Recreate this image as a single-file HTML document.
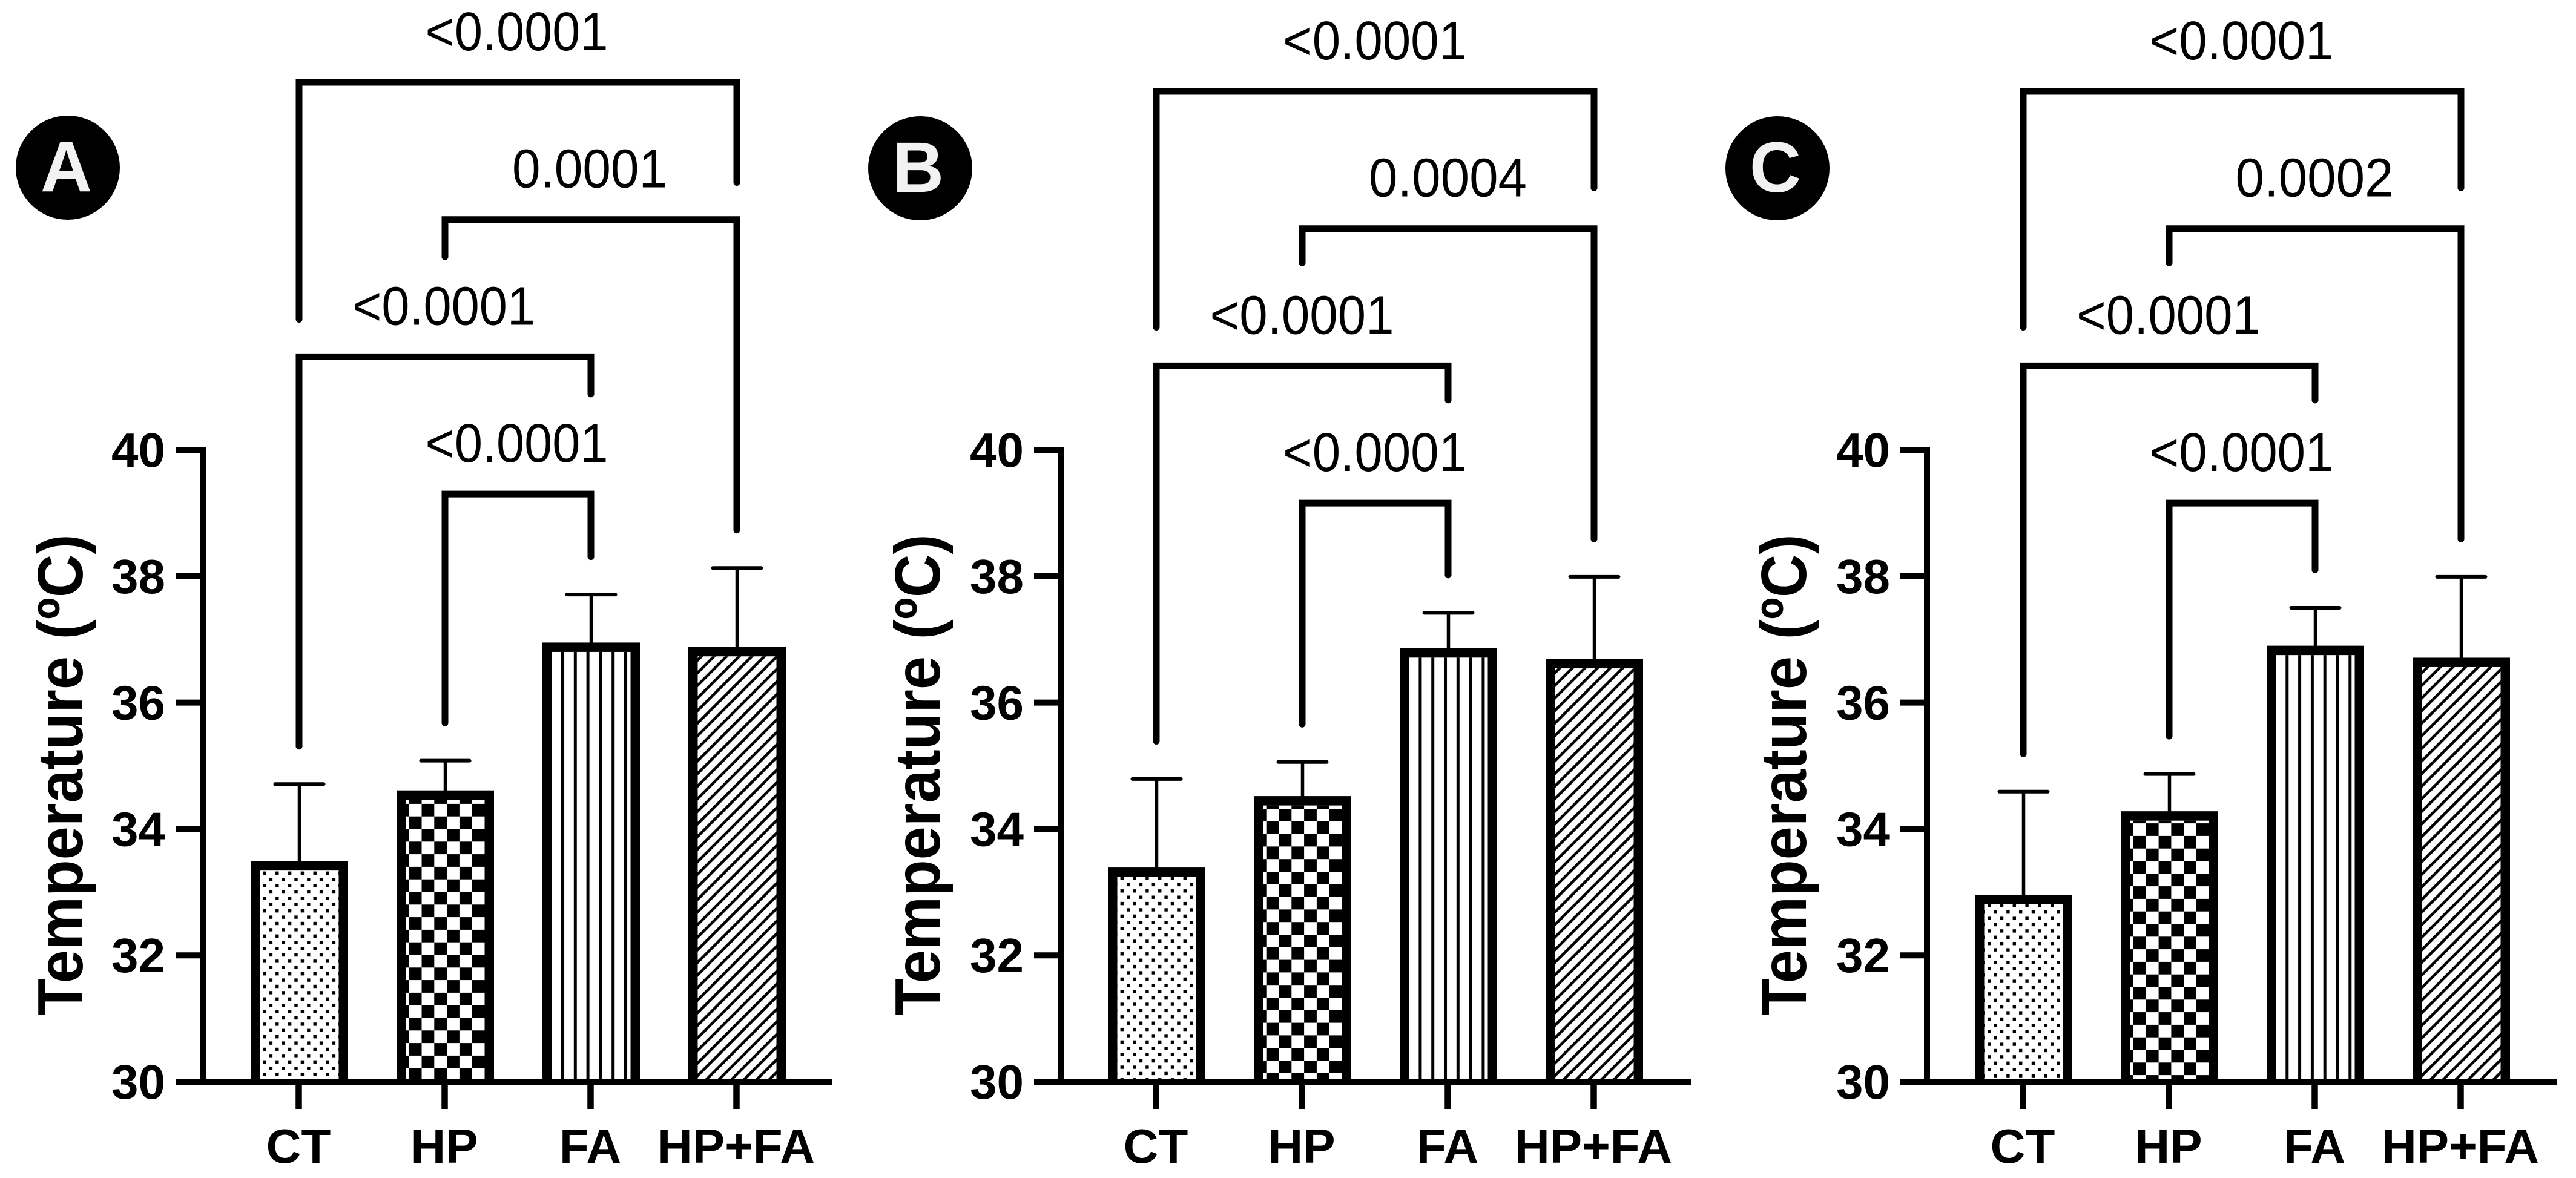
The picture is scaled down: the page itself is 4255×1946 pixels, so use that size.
<!DOCTYPE html>
<html lang="en">
<head>
<meta charset="utf-8">
<title>Temperature bar charts</title>
<style>
html,body{margin:0;padding:0;background:#fff;}
svg{display:block;}
text{font-family:"Liberation Sans",Arial,sans-serif;fill:#000;}
.b{font-weight:bold;}
</style>
</head>
<body>
<svg id="figure" xmlns="http://www.w3.org/2000/svg" width="4255" height="1946" viewBox="0 0 4255 1946">
<rect x="0" y="0" width="4255" height="1946" fill="#fff"/>
<defs id="defs"></defs>
</svg>
<script>
// ---- chart data ----
const categories = ['CT', 'HP', 'FA', 'HP+FA'];
const panelLetters = ['A', 'B', 'C'];
const tickValues = [30, 32, 34, 36, 38, 40];
const yAxisTitle = 'Temperature (ºC)';

const meansA = [33.49, 34.61, 36.95, 36.88];
const errorsA = [1.22, 0.47, 0.76, 1.25];
const pValuesA = ['<0.0001', '0.0001', '<0.0001', '<0.0001'];

const meansB = [33.39, 34.52, 36.86, 36.69];
const errorsB = [1.40, 0.54, 0.56, 1.30];
const pValuesB = ['<0.0001', '0.0004', '<0.0001', '<0.0001'];

const meansC = [32.96, 34.28, 36.90, 36.71];
const errorsC = [1.63, 0.59, 0.60, 1.28];
const pValuesC = ['<0.0001', '0.0002', '<0.0001', '<0.0001'];

// which two groups each significance bracket joins (indexes into categories)
const bracketPairs = [[0, 3], [1, 3], [0, 2], [1, 2]];

// ---- layout (not data) ----
const NS = 'http://www.w3.org/2000/svg';
const svg = document.getElementById('figure');
const AXIS_BOTTOM = 1787, PX_PER_UNIT = 104.4, AXIS_MIN = 30;
const TILE = 20.8, BAR_W = 161, BORDER = 15.5, TICK_STEP = 241;

const layouts = [
  { key: 'a', firstTick: 493.5, axisX: 335, axisEnd: 1375, tickLeft: 290, titleX: 136,
    badgeX: 112, badgeY: 277, bracketTop: 136, longDrop: 397, topShort: 171, midShort: 67,
    labelShift: -2, longW: 302, shortW: 256,
    checker: [675.7, 1764.7], dots: [437, 1442.3], stripes: 927, hatch: [1152, 1111.7] },
  { key: 'b', firstTick: 1909.5, axisX: 1752, axisEnd: 2793, tickLeft: 1708, titleX: 1552,
    badgeX: 1520, badgeY: 278, bracketTop: 151, longDrop: 395, topShort: 165, midShort: 62,
    labelShift: -0.5, longW: 304, shortW: 261,
    checker: [2091.7, 1440], dots: [1853.3, 1451], stripes: 2385, hatch: [2569, 1131.7] },
  { key: 'c', firstTick: 3341.5, axisX: 3183, axisEnd: 4224, tickLeft: 3139, titleX: 2983,
    badgeX: 2936, badgeY: 278, bracketTop: 151, longDrop: 395, topShort: 165, midShort: 62,
    labelShift: -1, longW: 304, shortW: 261,
    checker: [3524, 1505.7], dots: [3285.7, 1496.3], stripes: 3775.3, hatch: [4001, 1131.7] }
];
const panelMeans = [meansA, meansB, meansC];
const panelErrors = [errorsA, errorsB, errorsC];
const panelPValues = [pValuesA, pValuesB, pValuesC];

// ---- axis functions ----
function yScale(v) { return AXIS_BOTTOM - (v - AXIS_MIN) * PX_PER_UNIT; }
function xScale(layout, i) { return layout.firstTick + i * TICK_STEP; }

function add(parent, tag, attrs, text) {
  const el = document.createElementNS(NS, tag);
  for (const k in attrs) el.setAttribute(k, attrs[k]);
  if (text !== undefined) el.textContent = text;
  parent.appendChild(el);
  return el;
}

// ---- fill patterns ----
function buildPatterns(l) {
  const defs = document.getElementById('defs');
  const c = TILE;
  let m = '';
  m += '<pattern id="dots-' + l.key + '" patternUnits="userSpaceOnUse" width="' + c + '" height="' + c + '" x="' + (l.dots[0] - c / 4) + '" y="' + (l.dots[1] - c / 4) + '">' +
       '<rect x="' + (c / 4 - 2.7) + '" y="' + (c / 4 - 2.7) + '" width="5.4" height="5.4" fill="#000"/>' +
       '<rect x="' + (3 * c / 4 - 2.7) + '" y="' + (3 * c / 4 - 2.7) + '" width="5.4" height="5.4" fill="#000"/></pattern>';
  m += '<pattern id="checker-' + l.key + '" patternUnits="userSpaceOnUse" width="' + (2 * c) + '" height="' + (2 * c) + '" x="' + l.checker[0] + '" y="' + l.checker[1] + '">' +
       '<rect x="0" y="0" width="' + c + '" height="' + c + '" fill="#000"/>' +
       '<rect x="' + c + '" y="' + c + '" width="' + c + '" height="' + c + '" fill="#000"/></pattern>';
  m += '<pattern id="stripes-' + l.key + '" patternUnits="userSpaceOnUse" width="' + c + '" height="' + c + '" x="' + l.stripes + '" y="0">' +
       '<rect x="0" y="0" width="5" height="' + c + '" fill="#000"/></pattern>';
  m += '<pattern id="hatch-' + l.key + '" patternUnits="userSpaceOnUse" width="' + c + '" height="' + c + '" x="' + l.hatch[0] + '" y="' + (l.hatch[1] - c) + '">' +
       '<path d="M-2,2 L2,-2 M-2,' + (c + 2) + ' L' + (c + 2) + ',-2 M' + (c - 2) + ',' + (c + 2) + ' L' + (c + 2) + ',' + (c - 2) + '" stroke="#000" stroke-width="4.6" fill="none"/></pattern>';
  defs.insertAdjacentHTML('beforeend', m);
}

const fillNames = ['dots', 'checker', 'stripes', 'hatch'];

// ---- draw each panel ----
layouts.forEach(function (l, p) {
  const means = panelMeans[p], errors = panelErrors[p], pVals = panelPValues[p];
  const letter = panelLetters[p].toLowerCase();
  buildPatterns(l);

  const g = add(svg, 'g', {});
  
  

  // panel badge
  const badge = add(g, 'circle', { cx: l.badgeX, cy: l.badgeY, r: 86, fill: '#000' });
  
  
  const badgeText = add(g, 'text', { x: l.badgeX - (p === 0 ? 2.5 : 3.5), y: l.badgeY + 39, 'text-anchor': 'middle', 'font-size': 118, 'font-weight': 'bold', style: 'fill:#f2f2f2' }, panelLetters[p]);
  
  

  // y axis title
  const title = add(g, 'text', { transform: 'translate(' + l.titleX + ',1280) rotate(-90)', 'text-anchor': 'middle', 'font-size': 106, 'font-weight': 'bold', textLength: 795, lengthAdjust: 'spacingAndGlyphs' }, yAxisTitle);
  
  

  // bars, with error bars behind the bar border
  categories.forEach(function (cat, i) {
    const cx = xScale(l, i) + 1;
    const top = yScale(means[i]);
    const capY = yScale(means[i] + errors[i]);

    const stem = add(g, 'line', { x1: cx, x2: cx, y1: capY, y2: top + 2, stroke: '#000', 'stroke-width': 5.5 });
    
    
    const cap = add(g, 'line', { x1: cx - 40, x2: cx + 40, y1: capY, y2: capY, stroke: '#000', 'stroke-width': 6, 'stroke-linecap': 'round' });
    
    

    const outer = add(g, 'rect', { x: cx - BAR_W / 2, y: top, width: BAR_W, height: AXIS_BOTTOM - top, fill: '#000' });
    
    
    const innerAttrs = { x: cx - BAR_W / 2 + BORDER, y: top + BORDER, width: BAR_W - 2 * BORDER, height: AXIS_BOTTOM - top - BORDER };
    const white = add(g, 'rect', Object.assign({ fill: '#fff' }, innerAttrs));
    
    
    const inner = add(g, 'rect', Object.assign({ fill: 'url(#' + fillNames[i] + '-' + l.key + ')' }, innerAttrs));
    
    
  });

  // axes
  const yAxis = add(g, 'line', { x1: l.axisX, x2: l.axisX, y1: yScale(40) - 5, y2: AXIS_BOTTOM, stroke: '#000', 'stroke-width': 10 });
  
  
  const xAxis = add(g, 'line', { x1: l.tickLeft, x2: l.axisEnd, y1: AXIS_BOTTOM, y2: AXIS_BOTTOM, stroke: '#000', 'stroke-width': 10 });
  
  

  tickValues.forEach(function (v) {
    const t = add(g, 'line', { x1: l.tickLeft, x2: l.axisX, y1: yScale(v), y2: yScale(v), stroke: '#000', 'stroke-width': 10 });
    
    
    const lab = add(g, 'text', { x: l.tickLeft - 17, y: yScale(v) + 28, 'text-anchor': 'end', 'font-size': 80, 'font-weight': 'bold' }, String(v));
    
    
  });

  categories.forEach(function (cat, i) {
    const x = xScale(l, i);
    const t = add(g, 'line', { x1: x, x2: x, y1: AXIS_BOTTOM, y2: 1832, stroke: '#000', 'stroke-width': 10.5 });
    
    
    const lab = add(g, 'text', { x: x - 0.5, y: 1921, 'text-anchor': 'middle', 'font-size': 80, 'font-weight': 'bold' }, cat);
    
    
  });

  // significance brackets: the leg ends sit just above the error caps or the next label
  function dataEnd(i) { return yScale(means[i] + errors[i]) - 57 - 5.5; }
  bracketPairs.forEach(function (pair, k) {
    const by = l.bracketTop + k * 226.7;
    const x1 = xScale(l, pair[0]) + 0.5, x2 = xScale(l, pair[1]) + 0.5;
    let leftEnd, rightEnd;
    if (k === 0) { leftEnd = by + l.longDrop - 5.5; rightEnd = by + l.topShort - 5.5; }
    else if (k === 1) { leftEnd = by + l.midShort - 5.5; rightEnd = dataEnd(pair[1]); }
    else if (k === 2) { leftEnd = dataEnd(pair[0]); rightEnd = by + l.midShort - 5.5; }
    else { leftEnd = dataEnd(pair[0]); rightEnd = dataEnd(pair[1]); }
    const path = add(g, 'path', { d: 'M' + x1 + ',' + leftEnd + ' L' + x1 + ',' + by + ' L' + x2 + ',' + by + ' L' + x2 + ',' + rightEnd, fill: 'none', stroke: '#000', 'stroke-width': 11, 'stroke-linecap': 'round', 'stroke-linejoin': 'miter' });
    
    
    const label = pVals[k];
    const width = label.charAt(0) === '<' ? l.longW : l.shortW;
    const txt = add(g, 'text', { x: (x1 + x2) / 2 + l.labelShift, y: by - 53, 'text-anchor': 'middle', 'font-size': 90, textLength: width, lengthAdjust: 'spacingAndGlyphs' }, label);
    
    
  });
});
</script>
</body>
</html>
